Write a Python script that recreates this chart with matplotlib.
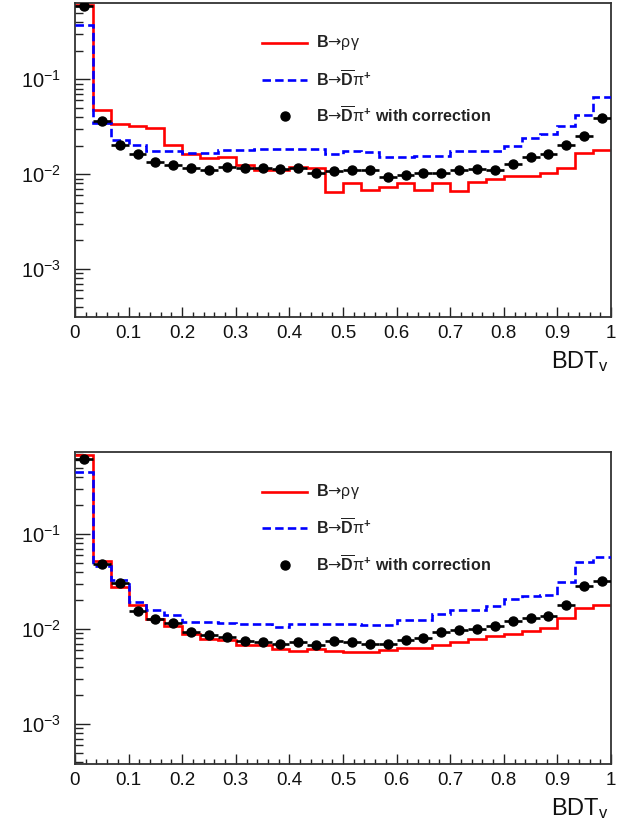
import numpy as np
import matplotlib
matplotlib.use("Agg")
import matplotlib.pyplot as plt
from matplotlib.ticker import LogLocator, MultipleLocator, LogFormatterSciNotation, NullFormatter

plt.rcParams['font.family'] = ['Liberation Sans', 'DejaVu Sans']
plt.rcParams['mathtext.fontset'] = 'custom'
plt.rcParams['mathtext.rm'] = 'Liberation Sans'
plt.rcParams['mathtext.it'] = 'Liberation Sans:italic'
plt.rcParams['mathtext.bf'] = 'Liberation Sans:bold'
plt.rcParams['mathtext.sf'] = 'DejaVu Sans'
plt.rcParams['mathtext.fallback'] = 'stixsans'

# 30 equal bins in BDT_v
bin_edges = np.linspace(0.0, 1.0, 31)

# Upper panel
top_rhogamma = [0.601, 0.0472, 0.0341, 0.0320, 0.0310, 0.0202, 0.0162, 0.0149, 0.0152, 0.0126,
                0.0110, 0.0110, 0.0119, 0.0115, 0.00641, 0.00798, 0.00679, 0.00724, 0.00798, 0.00679,
                0.00798, 0.00662, 0.00830, 0.00900, 0.00952, 0.00952, 0.01033, 0.01175, 0.01652, 0.01820]
top_dpi = [0.376, 0.0347, 0.0232, 0.0202, 0.0176, 0.0176, 0.0169, 0.0169, 0.0179, 0.0179,
           0.0183, 0.0183, 0.0183, 0.0183, 0.0165, 0.0175, 0.0172, 0.0152, 0.0152, 0.0157,
           0.0157, 0.0176, 0.0176, 0.0176, 0.0199, 0.0241, 0.0268, 0.0320, 0.0418, 0.0652]
top_dpi_corr = [0.594, 0.0364, 0.0205, 0.0162, 0.0134, 0.0125, 0.0117, 0.0111, 0.0119, 0.0115,
                0.0117, 0.0113, 0.0115, 0.0104, 0.0107, 0.0110, 0.0110, 0.0094, 0.0099, 0.0102,
                0.0102, 0.0110, 0.0113, 0.0110, 0.0127, 0.0150, 0.0165, 0.0205, 0.0254, 0.0392]

# Lower panel
bot_rhogamma = [0.684, 0.0523, 0.0275, 0.0177, 0.0128, 0.0107, 0.00893, 0.00791, 0.00760, 0.00673,
                0.00673, 0.00615, 0.00582, 0.00615, 0.00591, 0.00568, 0.00568, 0.00606, 0.00630, 0.00630,
                0.00673, 0.00724, 0.00785, 0.00837, 0.00893, 0.00945, 0.0103, 0.0131, 0.0166, 0.0180]
bot_dpi = [0.450, 0.0464, 0.0325, 0.0192, 0.0157, 0.0141, 0.0118, 0.0118, 0.0116, 0.0114,
           0.0114, 0.0105, 0.0114, 0.0114, 0.0114, 0.0114, 0.0111, 0.0111, 0.0125, 0.0125,
           0.0145, 0.0160, 0.0160, 0.0173, 0.0207, 0.0224, 0.0230, 0.0310, 0.0503, 0.0573]
bot_dpi_corr = [0.615, 0.0487, 0.0305, 0.0156, 0.0127, 0.0117, 0.00923, 0.00871, 0.00817, 0.00753,
                0.00729, 0.00701, 0.00729, 0.00684, 0.00755, 0.00724, 0.00701, 0.00701, 0.00773, 0.00804,
                0.00929, 0.00968, 0.0101, 0.0108, 0.0120, 0.0131, 0.0136, 0.0180, 0.0286, 0.0323]

x_ticks = [0, 0.1, 0.2, 0.3, 0.4, 0.5, 0.6, 0.7, 0.8, 0.9, 1]
x_ticklabels = ["0", "0.1", "0.2", "0.3", "0.4", "0.5", "0.6", "0.7", "0.8", "0.9", "1"]

labels = [r"$\mathbf{B}\mathsf{→}\mathrm{ργ}$",
          r"$\mathbf{B}\mathsf{→}\overline{\mathbf{D}}\mathrm{π}^{\mathbf{+}}$",
          r"$\mathbf{B}\mathsf{→}\overline{\mathbf{D}}\mathrm{π}^{\mathbf{+}}$ with correction"]

W, H = 618, 825
fig = plt.figure(figsize=(W / 100, H / 100), dpi=100)


def fx(px):
    return px / W


def fy(py):
    return 1 - py / H


panels = [
    dict(box=(75, 2.7, 611, 316.7), ylim=(3.14e-4, 0.643),
         data=(top_rhogamma, top_dpi, top_dpi_corr), leg_y=(43, 80, 116), xlab_y=368),
    dict(box=(75, 451.7, 611, 764), ylim=(3.8e-4, 0.734),
         data=(bot_rhogamma, bot_dpi, bot_dpi_corr), leg_y=(492, 528, 565), xlab_y=815),
]

centers = 0.5 * (bin_edges[:-1] + bin_edges[1:])
half_w = 0.5 * np.diff(bin_edges)

for p in panels:
    l, t, r, b = p["box"]
    ax = fig.add_axes([fx(l), fy(b), fx(r) - fx(l), fy(t) - fy(b)])
    rg, dp, dc = p["data"]

    ax.stairs(rg, bin_edges, baseline=None, color="#ff0000", lw=1.9, zorder=2)
    ax.stairs(dp, bin_edges, baseline=None, color="#0000ff", lw=1.9,
              linestyle=(0, (3.2, 1.6)), zorder=3)
    ax.errorbar(centers, dc, xerr=half_w, fmt="o", color="black", ms=6.5,
                elinewidth=1.9, capsize=0, zorder=4)

    ax.set_yscale("log")
    ax.set_xlim(0, 1)
    ax.set_ylim(*p["ylim"])
    ax.set_xticks(x_ticks)
    ax.set_xticklabels(x_ticklabels)
    ax.xaxis.set_minor_locator(MultipleLocator(0.02))
    ax.yaxis.set_major_locator(LogLocator(base=10, numticks=10))
    ax.yaxis.set_major_formatter(LogFormatterSciNotation())
    ax.yaxis.set_minor_locator(LogLocator(base=10, subs=np.arange(2, 10), numticks=20))
    ax.yaxis.set_minor_formatter(NullFormatter())

    ax.tick_params(axis="both", which="both", direction="in", top=False, right=False,
                   colors="#222222", labelcolor="#111111")
    ax.tick_params(axis="x", which="major", length=7, width=1, labelsize=13.5, pad=6)
    ax.tick_params(axis="x", which="minor", length=3.5, width=1)
    ax.tick_params(axis="y", which="major", length=11, width=1, labelsize=14.5, pad=10)
    ax.tick_params(axis="y", which="minor", length=5.5, width=1)
    for s in ax.spines.values():
        s.set_color("#333333")
        s.set_linewidth(1.3)

    # legend entries
    ly = p["leg_y"]
    fig.add_artist(plt.Line2D([fx(262), fx(307)], [fy(ly[0])] * 2, color="#ff0000", lw=1.9))
    fig.add_artist(plt.Line2D([fx(262), fx(307)], [fy(ly[1])] * 2, color="#0000ff", lw=1.9,
                              linestyle=(0, (3.2, 1.6))))
    fig.add_artist(plt.Line2D([fx(285)], [fy(ly[2])], marker="o", color="black", ms=6.5, lw=0))
    for yy, lab in zip(ly, labels):
        fig.text(fx(316), fy(yy), lab, fontsize=11.5, fontweight="bold", color="#222222",
                 ha="left", va="center")

    fig.text(fx(609), fy(p["xlab_y"]), r"BDT$_{\mathrm{v}}$", fontsize=17, color="#111111",
             ha="right", va="baseline")

fig.savefig("out.png", dpi=100)
